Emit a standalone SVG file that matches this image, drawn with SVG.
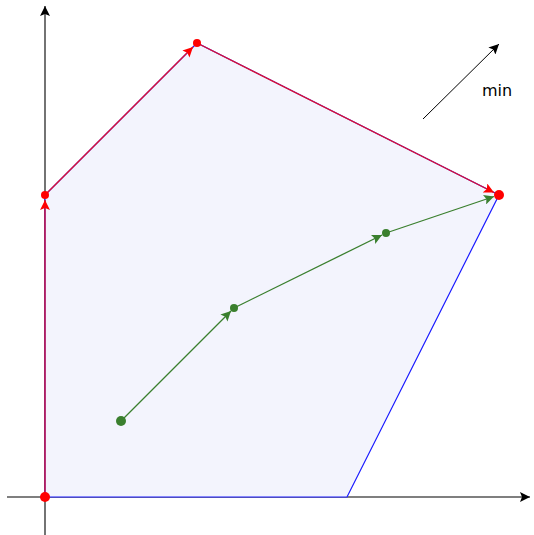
<svg xmlns="http://www.w3.org/2000/svg" width="534" height="535" viewBox="0 0 534 535">
<style>
.axis{stroke:#000;stroke-width:1.1;fill:none}
.red{stroke:#e0102e;stroke-width:1.3;fill:none}
.green{stroke:#3a7f2e;stroke-width:1.3;fill:none}
.rdot{fill:#ff0000}
.gdot{fill:#3a7f2e}
</style>
<defs>
<marker id="ak" viewBox="0 0 10 10" refX="10" refY="5" markerWidth="10" markerHeight="10" markerUnits="userSpaceOnUse" orient="auto"><path d="M0,0 L10,5 L0,10 L2,5 z" fill="#000"/></marker>
<marker id="ar" viewBox="0 0 10 10" refX="10" refY="5" markerWidth="10" markerHeight="10" markerUnits="userSpaceOnUse" orient="auto"><path d="M0,0 L10,5 L0,10 L2,5 z" fill="#ff0000"/></marker>
<marker id="ag" viewBox="0 0 10 10" refX="10" refY="5" markerWidth="10" markerHeight="10" markerUnits="userSpaceOnUse" orient="auto"><path d="M0,0 L10,5 L0,10 L2,5 z" fill="#3a7f2e"/></marker>
</defs>
<g id="axes">
<line class="axis" x1="7" y1="497" x2="530" y2="497" marker-end="url(#ak)"/>
<line class="axis" x1="45" y1="535" x2="45" y2="6" marker-end="url(#ak)"/>
</g>
<g id="region"><polygon points="45,497 45,195 197,43 499,195 347,497" fill="#f3f4fd" stroke="#1a1aff" stroke-width="1.2"/></g>
<g id="connectors">
<line class="red" x1="45" y1="497" x2="45" y2="200" marker-end="url(#ar)"/>
<line class="red" x1="45" y1="195" x2="193" y2="47" marker-end="url(#ar)"/>
<line class="red" x1="197" y1="43" x2="494" y2="192.5" marker-end="url(#ar)"/>
<line class="green" x1="121" y1="421" x2="231" y2="311" marker-end="url(#ag)"/>
<line class="green" x1="234" y1="308" x2="382" y2="235" marker-end="url(#ag)"/>
<line class="green" x1="386" y1="233" x2="494" y2="196.5" marker-end="url(#ag)"/>
<line class="axis" style="stroke-width:1" x1="423" y1="119" x2="499" y2="44" marker-end="url(#ak)"/>
</g>
<g id="points">
<circle class="rdot" cx="45" cy="497" r="5"/>
<circle class="rdot" cx="45" cy="195" r="4"/>
<circle class="rdot" cx="197" cy="43" r="4"/>
<circle class="rdot" cx="499" cy="195" r="5"/>
<circle class="gdot" cx="121" cy="421" r="5"/>
<circle class="gdot" cx="234" cy="308" r="4"/>
<circle class="gdot" cx="386" cy="233" r="4"/>
</g>
<g id="label"><text x="482" y="96" font-family="DejaVu Sans, sans-serif" font-size="16" fill="#000">min</text></g>
</svg>
